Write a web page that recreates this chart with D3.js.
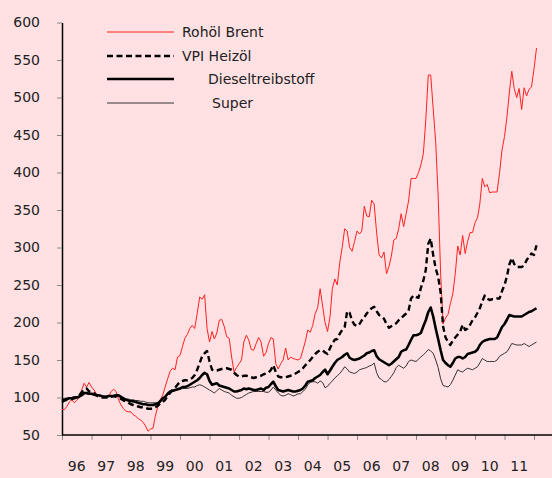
<!DOCTYPE html>
<html>
<head>
<meta charset="utf-8">
<script src="https://cdn.jsdelivr.net/npm/d3@7"></script>
<style>
  body { margin: 0; background: #ffe1e3; }
  text { font-family: "DejaVu Sans", sans-serif; fill: #222; }
</style>
</head>
<body>
<svg id="chart" width="552" height="478"></svg>
<script>
// monthly index values, Jan 1996 .. Feb 2012
const brent = [
  84, 84, 88, 94, 97, 93, 96, 100, 110, 119, 114, 120,
  114, 110, 105, 103, 102, 101, 101, 101, 108, 111, 108, 97,
  90, 85, 82, 81, 81, 77, 75, 72, 70, 67, 62, 55,
  58, 59, 75, 88, 97, 103, 114, 125, 135, 139, 137, 154,
  156, 168, 179, 184, 192, 196, 192, 212, 234, 231, 237, 192,
  174, 188, 178, 186, 203, 204, 195, 181, 179, 154, 134, 140,
  145, 150, 174, 183, 177, 164, 163, 172, 180, 174, 155, 160,
  172, 180, 178, 145, 138, 145, 150, 166, 150, 154, 152, 151,
  150, 152, 163, 175, 190, 187, 196, 212, 220, 245, 222, 200,
  188, 208, 245, 258, 250, 280, 300, 325, 322, 300, 295, 308,
  322, 318, 322, 355, 342, 341, 363, 358, 319, 290, 286, 294,
  265, 275, 288, 310, 312, 325, 345, 328, 345, 362, 392, 392,
  392, 400, 410, 425, 470, 530, 530, 485, 440, 370, 265, 198,
  206, 211, 225, 238, 265, 302, 290, 316, 292, 308, 320, 320,
  333, 340, 358, 392, 381, 384, 373, 374, 374, 374, 400, 430,
  448, 475, 506, 535, 512, 500, 512, 484, 513, 502, 511, 514,
  538, 566
];
const heizoel = [
  94, 96, 97, 97, 98, 99, 100, 103, 107, 111, 112, 108,
  108, 106, 103, 101, 100, 100, 100, 100, 101, 102, 101, 100,
  98, 96, 95, 93, 91, 90, 89, 88, 87, 87, 86, 85,
  85, 85, 87, 89, 92, 94, 97, 102, 106, 110, 113, 117,
  121, 122, 123, 123, 124, 126, 130, 137, 146, 155, 159, 162,
  148, 137, 136, 136, 137, 138, 139, 139, 138, 137, 133, 130,
  128, 128, 129, 129, 128, 127, 126, 127, 128, 129, 131, 132,
  133, 137, 143, 134, 128, 127, 127, 127, 128, 129, 130, 132,
  134, 136, 139, 143, 146, 150, 154, 158, 161, 163, 163, 160,
  158, 166, 172, 177, 178, 185, 190, 194, 215, 213, 202, 197,
  195, 198, 203, 207, 212, 216, 219, 221, 215, 210, 208, 205,
  198, 193, 195, 197, 199, 203, 206, 209, 212, 216, 232, 236,
  234, 233, 246, 256, 270, 305, 312, 290, 272, 261, 240, 195,
  180, 174, 170, 176, 180, 184, 188, 197, 190, 192, 197, 203,
  207, 213, 219, 228, 236, 232, 230, 231, 231, 232, 232, 242,
  250, 262, 277, 286, 278, 274, 274, 274, 276, 283, 288, 292,
  290, 303
];
const diesel = [
  96, 97, 98, 99, 99, 100, 100, 101, 103, 106, 106, 105,
  105, 104, 103, 103, 102, 101, 101, 102, 102, 102, 103, 103,
  101, 99, 97, 96, 95, 95, 94, 93, 92, 91, 91, 90,
  90, 90, 91, 92, 95, 99, 101, 105, 108, 109, 110, 111,
  112, 114, 114, 115, 117, 119, 121, 123, 126, 130, 133, 131,
  122, 117, 118, 119, 116, 115, 114, 113, 112, 110, 108, 108,
  109, 110, 112, 111, 112, 111, 110, 110, 111, 112, 110, 113,
  114, 118, 121, 115, 110, 109, 108, 109, 110, 109, 108, 108,
  109, 110, 112, 116, 121, 122, 123, 126, 128, 130, 134, 137,
  131, 136, 141, 146, 150, 152, 154, 157, 159, 153, 151, 150,
  151, 152, 154, 156, 159, 160, 162, 163, 155, 151, 149, 147,
  145, 143, 145, 148, 151, 154, 161, 163, 164, 170, 177, 183,
  183, 184, 186, 195, 203, 214, 220, 208, 192, 178, 163, 150,
  146, 143, 141, 146, 152, 154, 154, 152, 154, 158, 159, 160,
  161, 164, 170, 174, 176, 177, 178, 178, 178, 180, 187, 194,
  198, 204, 210, 209, 208, 208, 208, 208, 210, 212, 214, 215,
  217, 219
];
const superBenzin = [
  98, 99, 99, 100, 100, 101, 101, 102, 104, 105, 105, 104,
  104, 103, 103, 103, 102, 102, 102, 102, 102, 102, 102, 101,
  100, 99, 98, 98, 97, 97, 96, 96, 95, 95, 94, 93,
  93, 93, 93, 93, 94, 97, 100, 103, 106, 108, 109, 110,
  111, 112, 112, 112, 113, 114, 114, 116, 117, 116, 114, 112,
  110, 108, 106, 109, 112, 110, 108, 107, 106, 103, 101, 99,
  99, 100, 102, 104, 106, 107, 108, 108, 108, 108, 108, 107,
  107, 110, 114, 110, 106, 103, 102, 103, 105, 104, 102, 103,
  105, 105, 108, 111, 117, 120, 121, 121, 119, 122, 120, 113,
  115, 119, 122, 126, 129, 132, 136, 141, 138, 134, 133, 132,
  134, 137, 138, 139, 140, 142, 143, 146, 133, 126, 124, 121,
  121, 124, 128, 133, 140, 143, 141, 139, 142, 148, 150, 149,
  148, 151, 154, 157, 160, 164, 162, 159, 150, 140, 125, 116,
  115, 114, 117, 123, 130, 137, 135, 134, 137, 139, 138, 137,
  139, 141, 146, 152, 150, 148, 148, 148, 148, 150, 155, 157,
  159, 161, 166, 172, 171, 170, 170, 170, 172, 170, 168, 170,
  172, 174
];

const yearTicks = d3.range(1996, 2013);
const yearLabels = ["96", "97", "98", "99", "00", "01", "02", "03", "04", "05", "06", "07", "08", "09", "10", "11"];
const yTicks = [50, 100, 150, 200, 250, 300, 350, 400, 450, 500, 550, 600];

const series = [
  { name: "Rohöl Brent", values: brent, color: "#ff2020", width: 1, dash: null, tx: 182 },
  { name: "VPI Heizöl", values: heizoel, color: "#000", width: 2.4, dash: "6,3.5", tx: 182 },
  { name: "Dieseltreibstoff", values: diesel, color: "#000", width: 2.6, dash: null, tx: 208 },
  { name: "Super", values: superBenzin, color: "#333", width: 1, dash: null, tx: 212 }
];

const svg = d3.select("#chart");
svg.append("rect").attr("width", 552).attr("height", 478).attr("fill", "#ffe1e3");

const x = d3.scaleTime()
  .domain([new Date(1996, 0, 1), new Date(2012, 0, 1)])
  .range([62, 534]);
const y = d3.scaleLinear().domain([50, 600]).range([435, 22.5]);

// y axis
const yAxis = svg.append("g")
  .attr("transform", "translate(62,0)")
  .call(d3.axisLeft(y).tickValues(yTicks).tickSize(5).tickSizeOuter(0).tickPadding(17));
yAxis.select(".domain").attr("stroke", "#000").attr("stroke-width", 1.5);
yAxis.selectAll(".tick line").attr("stroke", "#888");
yAxis.selectAll("text").style("font-size", "14px").attr("fill", "#222");

// x axis
const xAxis = svg.append("g")
  .attr("transform", "translate(0,435)")
  .call(d3.axisBottom(x).tickValues(yearTicks.map(yr => new Date(yr, 0, 1))).tickFormat("").tickSize(5).tickSizeOuter(0));
xAxis.select(".domain").remove();
xAxis.selectAll(".tick line").attr("stroke", "#888");
svg.append("line")
  .attr("x1", 62).attr("x2", 552)
  .attr("y1", 435).attr("y2", 435)
  .attr("stroke", "#000").attr("stroke-width", 1.5);

svg.append("g").selectAll("text")
  .data(yearLabels)
  .join("text")
  .attr("x", (d, i) => x(new Date(1996 + i, 6, 1)))
  .attr("y", 471)
  .attr("text-anchor", "middle")
  .style("font-size", "14px")
  .text(d => d);

// lines
const line = d3.line()
  .x((d, i) => x(new Date(1996, i, 1)))
  .y(d => y(d));

const drawOrder = [series[0], series[3], series[1], series[2]];
drawOrder.forEach(s => {
  svg.append("path")
    .datum(s.values)
    .attr("fill", "none")
    .attr("stroke", s.color)
    .attr("stroke-width", s.width)
    .attr("stroke-dasharray", s.dash)
    .attr("stroke-linejoin", "round")
    .attr("d", line);
});

// legend
const legend = svg.append("g");
series.forEach((s, i) => {
  const ly = [32, 56, 79, 103][i];
  legend.append("line")
    .attr("x1", 107).attr("x2", 174)
    .attr("y1", ly).attr("y2", ly)
    .attr("stroke", s.color)
    .attr("stroke-width", s.width)
    .attr("stroke-dasharray", s.dash);
  legend.append("text")
    .attr("x", s.tx)
    .attr("y", ly)
    .attr("dy", "0.35em")
    .style("font-size", "14px")
    .text(s.name);
});
</script>
</body>
</html>
